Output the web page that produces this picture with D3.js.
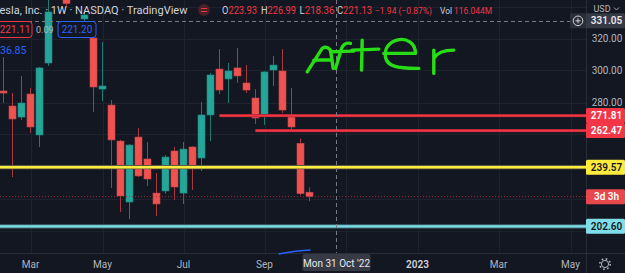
<!DOCTYPE html>
<html>
<head>
<meta charset="utf-8">
<script src="https://cdn.jsdelivr.net/npm/d3@7"></script>
<style>
  html, body { margin: 0; padding: 0; background: #131722; overflow: hidden; }
  svg { display: block; font-family: Roboto, "Noto Sans", sans-serif; }
</style>
</head>
<body>
<div id="chart"></div>
<script>
/* Weekly TSLA candles, week start dates */
const weeks = ["2022-02-14","2022-02-21","2022-02-28","2022-03-07","2022-03-14","2022-03-21","2022-03-28",
  "2022-04-04","2022-04-11","2022-04-18","2022-04-25","2022-05-02","2022-05-09","2022-05-16","2022-05-23",
  "2022-05-30","2022-06-06","2022-06-13","2022-06-20","2022-06-27","2022-07-04","2022-07-11","2022-07-18",
  "2022-07-25","2022-08-01","2022-08-08","2022-08-15","2022-08-22","2022-08-29","2022-09-05","2022-09-12",
  "2022-09-19","2022-09-26","2022-10-03","2022-10-10"];
const opens  = [287.2,277.8,270.9,285.3,259.7,304.7,355.0,363.0,327.0,332.2,320.3,288.4,278.4,255.9,217.8,
  258.4,244.7,223.4,224.7,249.7,223.4,252.2,245.3,272.2,300.9,294.7,301.6,292.2,282.8,272.8,300.3,
  299.7,272.2,254.5,223.93];
const highs  = [308.4,285.9,296.6,289.0,302.2,344.5,371.6,384.3,330.0,338.0,323.4,317.8,281.6,256.6,254.0,
  264.1,255.3,235.9,247.2,252.2,255.3,252.5,280.3,298.4,313.4,304.7,314.1,303.4,288.4,299.4,309.1,
  313.4,289.1,257.5,226.99];
const lows   = [279.7,233.4,269.0,261.0,252.2,302.8,345.0,340.5,320.5,330.0,274.1,280.9,226.6,211.6,207.2,
  233.4,227.8,209.0,223.0,219.1,216.6,225.3,237.2,255.9,285.3,279.7,292.2,285.9,266.6,265.9,290.3,
  273.4,263.4,221.9,218.36];
const closes = [285.9,269.7,279.7,264.7,301.6,336.6,361.5,341.8,328.3,334.7,289.7,290.3,256.6,221.6,253.4,
  234.1,232.2,216.6,245.9,227.2,250.9,239.7,272.2,297.2,287.8,299.7,296.6,287.8,270.3,299.1,303.4,
  275.3,264.7,223.07,221.13];

/* Drawn horizontal levels */
const levelPrices = [271.81, 262.47, 239.57, 202.60];
const levelStarts = ["2022-08-01", "2022-08-29", null, null];
const levelKinds  = ["red", "red", "yellow", "cyan"];

/* Axis ticks */
const priceTicks = [320, 300, 280];
const gridPrices = [340, 320, 300, 280, 260, 240, 220, 200];
const timeTicks  = ["2022-03-07","2022-05-02","2022-07-04","2022-09-05","2022-11-07","2023-01-02","2023-03-06","2023-05-01"];
const timeLabels = ["Mar","May","Jul","Sep","","2023","Mar","May"];

const lastClose = 221.13, countdown = "3d 3h";
const crossDate = "2022-10-31", crossPrice = 331.05, crossDateLabel = "Mon 31 Oct '22";

const width = 625, height = 273;
const plotRight = 586, plotBottom = 253;

const parse = d3.utcParse("%Y-%m-%d");
const candles = weeks.map((w, i) => ({
  date: parse(w), open: opens[i], high: highs[i], low: lows[i], close: closes[i]
}));

const x = d3.scaleUtc()
  .domain([parse("2022-02-14"), parse("2022-10-10")])
  .range([3.5, 309.5]);
const y = d3.scaleLinear()
  .domain([200, 340])
  .range([230.5, 6.5]);

const svg = d3.select("#chart").append("svg")
  .attr("width", width).attr("height", height)
  .attr("viewBox", [0, 0, width, height]);

svg.append("rect").attr("width", width).attr("height", height).attr("fill", "#131722");

svg.append("defs").append("clipPath").attr("id", "plot")
  .append("rect").attr("width", plotRight).attr("height", plotBottom);

const plot = svg.append("g").attr("clip-path", "url(#plot)");

/* grid */
plot.append("g").selectAll("line").data(gridPrices).join("line")
  .attr("x1", 0).attr("x2", plotRight)
  .attr("y1", d => Math.round(y(d)) + 0.5).attr("y2", d => Math.round(y(d)) + 0.5)
  .attr("stroke", "#1e222d").attr("stroke-width", 1);
plot.append("g").selectAll("line").data(timeTicks).join("line")
  .attr("x1", d => Math.round(x(parse(d))) + 0.5).attr("x2", d => Math.round(x(parse(d))) + 0.5)
  .attr("y1", 0).attr("y2", plotBottom)
  .attr("stroke", "#1e222d").attr("stroke-width", 1);

/* candles */
const up = "#26a69a", down = "#ef5350";
const wickUp = "#1f7a72", wickDown = "#a8383b";
const cg = plot.append("g");
cg.selectAll("line").data(candles).join("line")
  .attr("x1", d => x(d.date)).attr("x2", d => x(d.date))
  .attr("y1", d => y(d.high)).attr("y2", d => y(d.low))
  .attr("stroke", d => d.close >= d.open ? wickUp : wickDown)
  .attr("stroke-width", 1);
cg.selectAll("rect").data(candles).join("rect")
  .attr("x", d => x(d.date) - 3.5)
  .attr("width", 7)
  .attr("y", d => y(Math.max(d.open, d.close)))
  .attr("height", d => Math.max(1.5, Math.abs(y(d.open) - y(d.close))))
  .attr("fill", d => d.close >= d.open ? up : down)
  .attr("stroke", d => d.close >= d.open ? "#1d8a80" : "#c9454a")
  .attr("stroke-width", 0.6);

/* current price dotted line */
plot.append("line")
  .attr("x1", 0).attr("x2", plotRight)
  .attr("y1", y(lastClose)).attr("y2", y(lastClose))
  .attr("stroke", "#9b3037").attr("stroke-width", 1).attr("stroke-dasharray", "1,2");

/* horizontal levels */
const levelStyle = {
  red:    { outer: "#7a1d27", inner: "#f23645", ow: 3.2, iw: 2.2, box: "#f23645", text: "#ffffff" },
  yellow: { outer: "#5c5a45", inner: "#ffeb3b", ow: 4.2, iw: 2.4, box: "#ffeb3b", text: "#131722" },
  cyan:   { outer: "#3f6f75", inner: "#80deea", ow: 4.2, iw: 2.4, box: "#80deea", text: "#131722" }
};
const levels = levelPrices.map((p, i) => ({ price: p, start: levelStarts[i], kind: levelKinds[i] }));
levels.forEach(l => {
  const s = levelStyle[l.kind];
  const x1 = l.start ? x(parse(l.start)) : 0;
  [["outer", s.ow], ["inner", s.iw]].forEach(([k, w]) => {
    plot.append("line")
      .attr("x1", x1).attr("x2", plotRight)
      .attr("y1", y(l.price)).attr("y2", y(l.price))
      .attr("stroke", s[k]).attr("stroke-width", w);
  });
});

/* crosshair */
plot.append("line")
  .attr("x1", 0).attr("x2", plotRight)
  .attr("y1", Math.round(y(crossPrice)) + 0.5).attr("y2", Math.round(y(crossPrice)) + 0.5)
  .attr("stroke", "#787b86").attr("stroke-width", 1).attr("stroke-dasharray", "4,3");
plot.append("line")
  .attr("x1", Math.round(x(parse(crossDate))) + 0.5).attr("x2", Math.round(x(parse(crossDate))) + 0.5)
  .attr("y1", 0).attr("y2", plotBottom)
  .attr("stroke", "#787b86").attr("stroke-width", 1).attr("stroke-dasharray", "4,3");

/* hand drawings, anchored to the scales */
const ax = x(parse("2022-10-10")), ay = y(299);
const after = [
  "M-2.3,-0.3 L12.7,-23.7 Q17,-26.5 21,-22 L23.7,-3.7 M4.3,-12 L22.7,-12.3",
  "M41,-28.7 Q33,-30.5 31,-20 L26,-3.7 M21,-20.3 L44.3,-21",
  "M52.7,-32 L52,-2 M42.7,-22 L69.3,-23",
  "M74.3,-18.7 L106,-18.7 C106,-30 96,-33.5 90,-32.5 C80,-31 74.5,-24 76,-15 C77.5,-6 87,-3.5 109.3,-3.7",
  "M124.3,-22 L124.3,1.3 M124.3,-13.7 C128,-20 134,-22 144.3,-22"
];
plot.append("g").attr("transform", `translate(${ax},${ay})`)
  .selectAll("path").data(after).join("path")
  .attr("d", d => d)
  .attr("fill", "none").attr("stroke", "#27dd16").attr("stroke-width", 3.4)
  .attr("stroke-linecap", "round").attr("stroke-linejoin", "round");

/* axis borders */
svg.append("line").attr("x1", plotRight + 0.5).attr("x2", plotRight + 0.5).attr("y1", 0).attr("y2", height)
  .attr("stroke", "#2a2e39");
svg.append("line").attr("x1", 0).attr("x2", width).attr("y1", plotBottom + 0.5).attr("y2", plotBottom + 0.5)
  .attr("stroke", "#2a2e39");

/* small blue pen stroke on the time axis edge */
svg.append("path")
  .attr("d", `M${x(parse("2022-09-19")) - 4},${plotBottom + 1} Q${x(parse("2022-10-03")) - 4},${plotBottom - 2.5} ${x(parse("2022-10-10")) + 1},${plotBottom - 3}`)
  .attr("fill", "none").attr("stroke", "#2962ff").attr("stroke-width", 1.4);

/* price axis */
svg.append("g").selectAll("text").data(priceTicks).join("text")
  .attr("x", 607).attr("y", d => y(d))
  .attr("text-anchor", "middle").attr("dominant-baseline", "central")
  .attr("font-size", "10px").attr("fill", "#b2b5be")
  .text(d => d.toFixed(2));

svg.append("text").attr("x", 602).attr("y", 8.5)
  .attr("text-anchor", "middle").attr("dominant-baseline", "central")
  .attr("font-size", "9px").attr("fill", "#b2b5be").text("USD");
svg.append("path").attr("d", "M614,7.5 l2.5,2.5 l2.5,-2.5").attr("fill", "none")
  .attr("stroke", "#b2b5be").attr("stroke-width", 0.9);

function priceBox(p, label, fill, color) {
  const cy = y(p);
  svg.append("rect").attr("x", plotRight).attr("y", cy - 7.5)
    .attr("width", width - plotRight).attr("height", 15).attr("rx", 1.5)
    .attr("fill", fill);
  svg.append("text").attr("x", 606.5).attr("y", cy)
    .attr("text-anchor", "middle").attr("dominant-baseline", "central")
    .attr("font-size", "10px").attr("font-weight", 600).attr("fill", color).text(label);
}
levels.forEach(l => priceBox(l.price, l.price.toFixed(2), levelStyle[l.kind].box, levelStyle[l.kind].text));
priceBox(lastClose, countdown, "#e8474c", "#ffffff");
priceBox(crossPrice, crossPrice.toFixed(2), "#363a45", "#e6e8ee");

/* crosshair plus button */
svg.append("rect").attr("x", 570).attr("y", y(crossPrice) - 7.5).attr("width", 16).attr("height", 15)
  .attr("fill", "#2a2e39");
svg.append("circle").attr("cx", 578).attr("cy", y(crossPrice)).attr("r", 4.8)
  .attr("fill", "none").attr("stroke", "#d1d4dc").attr("stroke-width", 1);
svg.append("path").attr("d", `M575.5,${y(crossPrice)} h5 M578,${y(crossPrice) - 2.5} v5`)
  .attr("stroke", "#d1d4dc").attr("stroke-width", 1);

/* time axis */
const tl = timeTicks.map((t, i) => ({ date: parse(t), label: timeLabels[i] })).filter(d => d.label);
svg.append("g").selectAll("text").data(tl).join("text")
  .attr("x", d => x(d.date)).attr("y", 264)
  .attr("text-anchor", "middle").attr("dominant-baseline", "central")
  .attr("font-size", "10px")
  .attr("font-weight", d => d.label === "2023" ? 600 : 400)
  .attr("fill", d => d.label === "2023" ? "#d1d4dc" : "#b2b5be")
  .text(d => d.label);

const cx = x(parse(crossDate));
svg.append("rect").attr("x", cx - 34).attr("y", plotBottom + 1).attr("width", 68).attr("height", 17)
  .attr("rx", 2).attr("fill", "#363a45");
svg.append("text").attr("x", cx).attr("y", 263)
  .attr("text-anchor", "middle").attr("dominant-baseline", "central")
  .attr("font-size", "10px").attr("fill", "#e6e8ee").text(crossDateLabel);

/* settings gear */
const gear = svg.append("g").attr("transform", "translate(605,264)")
  .attr("stroke", "#b2b5be").attr("fill", "none");
gear.append("circle").attr("r", 3.6).attr("stroke-width", 1);
gear.append("circle").attr("r", 5.2).attr("stroke-width", 1.6).attr("stroke-dasharray", "1.6,2.5");

/* legend header */
const hd = svg.append("g").attr("font-size", "10px");
hd.append("text").attr("x", -0.5).attr("y", 14).attr("fill", "#d1d4dc")
  .attr("textLength", 188).attr("lengthAdjust", "spacingAndGlyphs")
  .text("esla, Inc. · 1W · NASDAQ · TradingView");
hd.append("circle").attr("cx", 204).attr("cy", 10).attr("r", 6).attr("fill", "#4a1f27");
hd.append("path").attr("d", "M201,8.5 h6 M201,11.5 h6").attr("stroke", "#f23645").attr("stroke-width", 1.2);

const ohlc = [["O", "223.93", 222], ["H", "226.99", 261], ["L", "218.36", 299.5], ["C", "221.13", 337]];
ohlc.forEach(([k, v, px]) => {
  const t = hd.append("text").attr("x", px).attr("y", 14)
    .attr("textLength", 35).attr("lengthAdjust", "spacingAndGlyphs");
  t.append("tspan").attr("fill", "#d1d4dc").text(k);
  t.append("tspan").attr("fill", "#f23645").text(v);
});
hd.append("text").attr("x", 375).attr("y", 14).attr("fill", "#f23645").attr("font-size", "8.6px")
  .attr("textLength", 57).attr("lengthAdjust", "spacingAndGlyphs").text("−1.94 (−0.87%)");
const vt = hd.append("text").attr("x", 440).attr("y", 14).attr("font-size", "9.2px")
  .attr("textLength", 52).attr("lengthAdjust", "spacingAndGlyphs");
vt.append("tspan").attr("fill", "#d1d4dc").text("Vol ");
vt.append("tspan").attr("fill", "#f23645").text("116.044M");

function legendBox(bx, w, label, color) {
  hd.append("rect").attr("x", bx).attr("y", 21.5).attr("width", w).attr("height", 16).attr("rx", 3)
    .attr("fill", "#131722").attr("stroke", color).attr("stroke-width", 1);
  hd.append("text").attr("x", bx + w / 2).attr("y", 29.8).attr("text-anchor", "middle")
    .attr("dominant-baseline", "central").attr("font-size", "10px").attr("fill", color).text(label);
}
legendBox(-2, 34, "221.11", "#f23645");
hd.append("text").attr("x", 36).attr("y", 29.8).attr("dominant-baseline", "central")
  .attr("font-size", "9px").attr("fill", "#b2b5be").text("0.09");
legendBox(58, 38, "221.20", "#2962ff");
hd.append("text").attr("x", 0).attr("y", 50).attr("dominant-baseline", "central")
  .attr("font-size", "10.5px").attr("fill", "#2962ff").text("36.85");
</script>
</body>
</html>
